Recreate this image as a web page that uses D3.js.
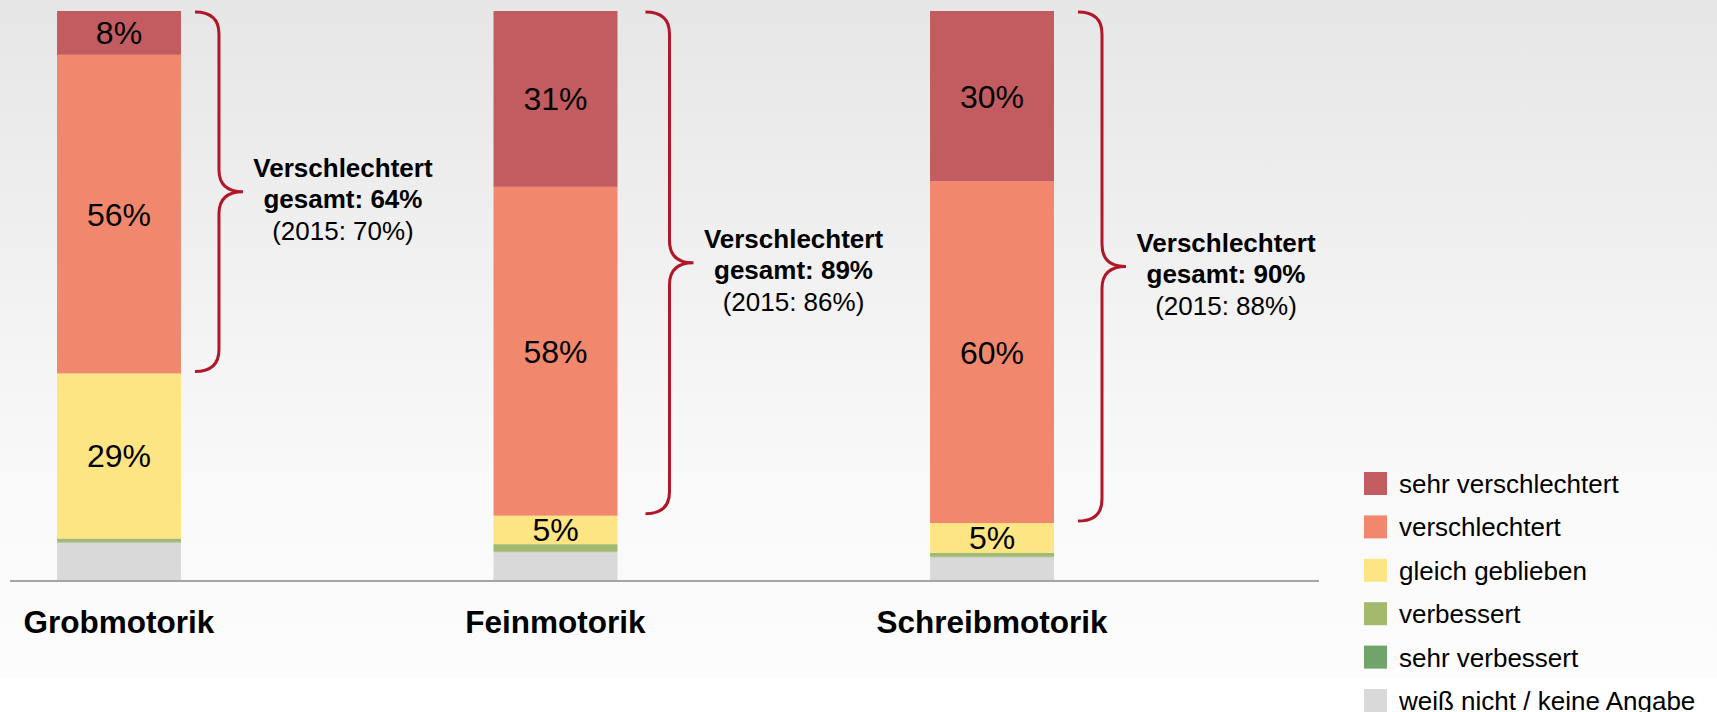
<!DOCTYPE html>
<html>
<head>
<meta charset="utf-8">
<script src="https://cdn.jsdelivr.net/npm/d3@7"></script>
<style>
  html, body { margin: 0; padding: 0; background: #fff; }
  svg { display: block; font-family: "Liberation Sans", Arial, sans-serif; }
</style>
</head>
<body>
<svg id="chart" width="1717" height="712"></svg>
<script>
// data (percent)
const categories = ["Grobmotorik", "Feinmotorik", "Schreibmotorik"];
const sehrVerschlechtert = [7.7, 30.9, 29.9];
const verschlechtert = [56.0, 57.8, 60.1];
const gleichGeblieben = [29.0, 5.0, 5.2];
const verbessert = [0.6, 1.3, 0.7];
const sehrVerbessert = [0.1, 0.1, 0.1];
const weissNicht = [6.6, 4.9, 4.0];

const gesamtVerschlechtert = [64, 89, 90];
const gesamt2015 = [70, 86, 88];

const seriesNames = ["weiß nicht / keine Angabe", "sehr verbessert", "verbessert",
                     "gleich geblieben", "verschlechtert", "sehr verschlechtert"];
const legendOrder = ["sehr verschlechtert", "verschlechtert", "gleich geblieben",
                     "verbessert", "sehr verbessert", "weiß nicht / keine Angabe"];

const colors = {
    "sehr verschlechtert": "#c25c60",
    "verschlechtert": "#f1886e",
    "gleich geblieben": "#fee583",
    "verbessert": "#a3b96d",
    "sehr verbessert": "#70a46a",
    "weiß nicht / keine Angabe": "#d9d9d9"
};

// build table for d3.stack
const seriesValues = [weissNicht, sehrVerbessert, verbessert, gleichGeblieben, verschlechtert, sehrVerschlechtert];
const table = categories.map(function(c, i) {
    const row = { cat: c };
    seriesNames.forEach(function(s, j) { row[s] = seriesValues[j][i]; });
    return row;
});

const svg = d3.select("#chart");
const W = 1717, H = 712;

// background panel with gradient
const defs = svg.append("defs");
const grad = defs.append("linearGradient").attr("id", "bg").attr("x1", 0).attr("y1", 0).attr("x2", 0).attr("y2", 1);
grad.append("stop").attr("offset", "0%").attr("stop-color", "#e6e6e6");
grad.append("stop").attr("offset", "70%").attr("stop-color", "#f9f9f9");
grad.append("stop").attr("offset", "100%").attr("stop-color", "#fcfcfc");
svg.append("rect").attr("width", W).attr("height", H).attr("fill", "#ffffff");
svg.append("rect").attr("width", W).attr("height", 678).attr("fill", "url(#bg)");

const x = d3.scaleBand().domain(categories).range([57, 1054]).paddingInner(0.716).paddingOuter(0);
const y = d3.scaleLinear().domain([0, 100]).range([580, 11]);

const stacked = d3.stack().keys(seriesNames)(table);

const layers = svg.selectAll("g.layer").data(stacked).enter().append("g")
    .attr("class", "layer")
    .attr("fill", function(d) { return colors[d.key]; });

layers.selectAll("rect").data(function(d) { return d; }).enter().append("rect")
    .attr("x", function(d) { return x(d.data.cat); })
    .attr("y", function(d) { return y(d[1]); })
    .attr("width", x.bandwidth())
    .attr("height", function(d) { return y(d[0]) - y(d[1]); });

// value labels for the big segments
const labelKeys = ["gleich geblieben", "verschlechtert", "sehr verschlechtert"];
stacked.filter(function(s) { return labelKeys.indexOf(s.key) >= 0; }).forEach(function(s) {
    svg.append("g").selectAll("text").data(s).enter().append("text")
        .attr("x", function(d) { return x(d.data.cat) + x.bandwidth() / 2; })
        .attr("y", function(d) { return (y(d[0]) + y(d[1])) / 2 + 11.5; })
        .attr("text-anchor", "middle")
        .attr("font-size", "32px")
        .attr("fill", "#000")
        .text(function(d) { return Math.round(d[1] - d[0]) + "%"; });
});

// baseline
svg.append("line")
    .attr("x1", 10).attr("x2", 1319)
    .attr("y1", y(0) + 1).attr("y2", y(0) + 1)
    .attr("stroke", "#a6a6a6").attr("stroke-width", 2);

// category labels
svg.selectAll("text.cat").data(categories).enter().append("text")
    .attr("class", "cat")
    .attr("x", function(d) { return x(d) + x.bandwidth() / 2; })
    .attr("y", 633)
    .attr("text-anchor", "middle")
    .attr("font-size", "31.5px")
    .attr("font-weight", "bold")
    .text(function(d) { return d; });

// braces around "verschlechtert" + "sehr verschlechtert"
const braceGap = [14, 28, 24];
const bw = 48, r = 22;
const topLayer = stacked[5], vLayer = stacked[4];
categories.forEach(function(c, i) {
    const x0 = x(c) + x.bandwidth() + braceGap[i];
    const xs = x0 + bw / 2, xt = x0 + bw;
    const y0 = y(topLayer[i][1]) + 1;
    const y1 = y(vLayer[i][0]) - 2;
    const ym = (y0 + y1) / 2;
    const p = d3.path();
    p.moveTo(x0, y0);
    p.quadraticCurveTo(xs, y0, xs, y0 + r);
    p.lineTo(xs, ym - r);
    p.quadraticCurveTo(xs, ym, xt, ym);
    p.quadraticCurveTo(xs, ym, xs, ym + r);
    p.lineTo(xs, y1 - r);
    p.quadraticCurveTo(xs, y1, x0, y1);
    svg.append("path").attr("d", p.toString())
        .attr("fill", "none").attr("stroke", "#b0182a").attr("stroke-width", 3);

    const t = svg.append("text").attr("text-anchor", "middle").attr("font-size", "26px").attr("fill", "#000");
    t.append("tspan").attr("x", xt + 100).attr("y", ym - 15).attr("font-weight", "bold").text("Verschlechtert");
    t.append("tspan").attr("x", xt + 100).attr("y", ym + 16).attr("font-weight", "bold")
        .text("gesamt: " + gesamtVerschlechtert[i] + "%");
    t.append("tspan").attr("x", xt + 100).attr("y", ym + 48).text("(2015: " + gesamt2015[i] + "%)");
});

// legend
const legend = svg.append("g").attr("transform", "translate(1364,472)");
const item = legend.selectAll("g").data(legendOrder).enter().append("g")
    .attr("transform", function(d, i) { return "translate(0," + (i * 43.4) + ")"; });
item.append("rect").attr("width", 23).attr("height", 23).attr("fill", function(d) { return colors[d]; });
item.append("text").attr("x", 35).attr("y", 21).attr("font-size", "26px").attr("fill", "#000")
    .text(function(d) { return d; });
</script>
</body>
</html>
